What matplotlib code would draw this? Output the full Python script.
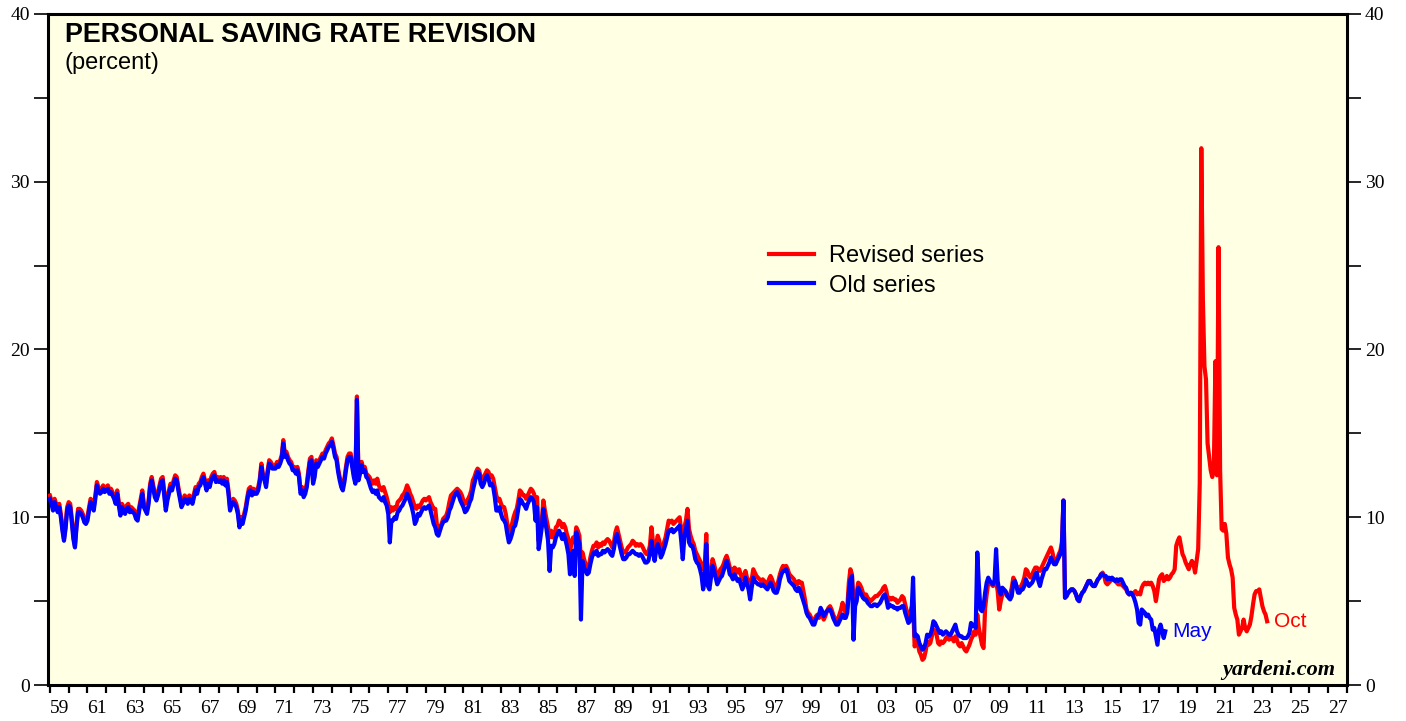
import numpy as np
import matplotlib
matplotlib.use("Agg")
import matplotlib.pyplot as plt
from matplotlib.ticker import MultipleLocator, FixedLocator, FixedFormatter

# Personal saving rate (percent), monthly, revised series Jan 1959 - Oct 2023
revised_1959_1969 = [
    11.3, 11.0, 10.6, 11.1, 10.8, 10.5, 10.8, 10.2, 9.4, 8.7, 9.5, 10.6,
    10.9, 10.8, 9.9, 8.9, 8.3, 9.6, 10.5, 10.5, 10.4, 10.2, 9.9, 9.8,
    10.0, 10.6, 11.1, 10.9, 10.6, 11.3, 12.1, 11.8, 11.6, 11.7, 11.9, 11.7,
    11.8, 11.9, 11.6, 11.7, 11.5, 11.3, 11.0, 11.6, 10.9, 10.3, 10.8, 10.6,
    10.4, 10.7, 10.8, 10.5, 10.6, 10.5, 10.4, 10.1, 10.0, 10.6, 11.1, 11.6,
    10.8, 10.6, 10.4, 11.0, 12.0, 12.4, 11.9, 11.4, 11.2, 11.5, 11.9, 12.3,
    12.4, 11.5, 10.6, 11.2, 11.6, 12.0, 11.8, 12.2, 12.5, 12.4, 11.8, 11.3,
    10.8, 11.0, 11.3, 11.2, 11.0, 11.3, 11.2, 11.0, 11.4, 11.8, 11.6, 12.0,
    12.1, 12.4, 12.6, 12.2, 11.8, 12.2, 12.0, 12.4, 12.6, 12.7, 12.3, 12.4,
    12.3, 12.4, 12.2, 12.4, 12.1, 12.3, 11.6, 10.6, 10.9, 11.1, 11.0, 10.8,
    10.4, 9.6, 10.0, 9.8, 10.2, 10.6, 11.2, 11.7, 11.8, 11.5, 11.7, 11.6,
]
revised_1970s = [
    11.6, 11.8, 12.3, 13.2, 12.6, 12.4, 12.0, 12.8, 13.4, 13.3, 13.1, 13.1,
    13.1, 13.3, 13.2, 13.4, 13.7, 14.6, 13.8, 13.9, 13.6, 13.4, 13.3, 13.0,
    13.0, 12.8, 13.0, 12.6, 11.6, 11.8, 11.4, 11.6, 12.0, 12.8, 13.5, 13.6,
    12.2, 12.6, 13.4, 13.2, 13.4, 13.6, 13.8, 13.7, 14.0, 14.2, 14.4, 14.5,
    14.7, 14.3, 13.8, 13.6, 12.9, 12.4, 12.0, 11.8, 12.3, 13.0, 13.6, 13.8,
    13.8, 13.2, 12.6, 12.2, 17.2, 12.4, 12.8, 13.3, 12.9, 13.0, 12.6, 12.5,
    12.4, 12.2, 12.0, 12.2, 12.0, 12.3, 11.9, 11.7, 11.6, 11.8, 11.5, 11.2,
    10.8, 10.3, 10.6, 10.4, 10.6, 10.5, 10.9, 11.0, 11.1, 11.3, 11.4, 11.6,
    11.9, 11.7, 11.4, 11.2, 10.9, 10.6, 10.5, 10.7, 10.6, 10.8, 11.0, 11.1,
    11.0, 11.1, 11.2, 10.9, 10.7, 10.5, 10.5, 9.6, 9.0, 9.4, 9.6, 9.9,
]
revised_1980s = [
    10.0, 10.1, 10.4, 10.9, 11.3, 11.4, 11.5, 11.6, 11.7, 11.6, 11.5, 11.3,
    11.0, 10.8, 10.9, 11.1, 11.3, 11.6, 12.2, 12.4, 12.7, 12.9, 12.8, 12.4,
    12.3, 12.4, 12.6, 12.8, 12.7, 12.4, 12.5, 12.3, 11.8, 11.3, 11.0, 11.1,
    10.8, 10.6, 10.6, 10.2, 9.6, 9.0, 9.2, 9.6, 10.0, 10.3, 10.5, 11.0,
    11.6, 11.5, 11.3, 11.3, 11.1, 11.3, 11.5, 11.7, 11.6, 11.4, 11.0, 11.2,
    8.6, 9.2, 9.8, 11.0, 10.4, 9.9, 9.4, 8.8, 9.2, 8.8, 8.9, 9.4,
    9.5, 9.8, 9.7, 9.4, 9.6, 9.4, 9.0, 8.7, 8.0, 8.4, 8.8, 8.5,
    9.4, 9.2, 8.9, 7.5, 7.9, 7.5, 7.2, 6.7, 7.0, 7.6, 8.0, 8.3,
    8.3, 8.5, 8.2, 8.4, 8.3, 8.5, 8.4, 8.6, 8.7, 8.6, 8.4, 8.2,
    8.5, 9.1, 9.4, 9.0, 8.6, 8.2, 7.9, 7.9, 8.0, 8.2, 8.3, 8.4,
]
revised_1990s = [
    8.6, 8.5, 8.3, 8.4, 8.3, 8.4, 8.3, 8.1, 7.9, 7.8, 7.9, 8.3,
    9.4, 8.5, 7.6, 8.4, 8.9, 8.6, 7.8, 8.1, 8.5, 8.8, 9.3, 9.8,
    9.7, 9.8, 9.6, 9.7, 9.8, 9.9, 10.0, 9.2, 8.2, 9.4, 9.8, 10.5,
    9.3, 8.9, 8.6, 8.4, 8.0, 7.8, 7.6, 7.4, 7.2, 6.9, 7.1, 9.0,
    6.2, 6.0, 6.8, 7.5, 7.2, 6.8, 6.5, 6.6, 6.9, 7.0, 7.2, 7.5,
    7.7, 7.4, 7.0, 6.9, 6.7, 7.0, 6.9, 6.7, 6.9, 6.6, 6.3, 6.5,
    6.8, 6.4, 6.2, 5.9, 6.3, 6.9, 6.7, 6.5, 6.4, 6.3, 6.2, 6.3,
    6.2, 6.1, 6.0, 6.3, 6.5, 6.3, 6.0, 5.8, 5.9, 6.2, 6.6, 6.9,
    7.1, 7.0, 7.1, 6.9, 6.6, 6.5, 6.4, 6.3, 6.1, 6.0, 6.2, 6.1,
    6.1, 5.6, 5.1, 4.5, 4.3, 4.2, 4.0, 3.9, 3.8, 4.1, 4.2, 4.0,
]
revised_2000s = [
    4.3, 4.2, 3.9, 4.1, 4.4, 4.6, 4.7, 4.5, 4.2, 4.0, 3.9, 3.9,
    4.2, 4.5, 4.9, 4.6, 4.3, 4.6, 6.1, 6.9, 6.6, 5.0, 5.2, 5.5,
    6.1, 6.0, 5.8, 5.5, 5.3, 5.4, 5.2, 5.1, 5.0, 5.1, 5.2, 5.3,
    5.3, 5.4, 5.5, 5.6, 5.8, 5.9, 5.6, 5.0, 5.2, 5.1, 5.2, 5.1,
    5.1, 4.9, 5.0, 5.1, 5.3, 5.2, 4.8, 4.4, 3.9, 4.2, 4.6, 4.9,
    2.3, 2.6, 2.5, 2.0, 1.8, 1.5, 1.6, 2.0, 2.6, 2.4, 2.5, 2.9,
    3.3, 3.2, 3.0, 2.5, 2.4, 2.6, 2.5, 2.6, 2.8, 2.9, 2.7, 2.8,
    2.8, 2.6, 2.9, 2.7, 2.4, 2.3, 2.5, 2.3, 2.1, 2.0, 2.2, 2.4,
    2.7, 2.9, 3.2, 3.0, 4.2, 3.4, 2.9, 2.4, 2.2, 4.6, 5.4, 6.1,
    6.2, 6.0, 5.9, 6.1, 6.2, 5.6, 4.5, 5.0, 5.4, 5.6, 5.5, 5.3,
]
revised_2010s = [
    5.3, 5.4, 5.8, 6.4, 6.2, 5.9, 5.6, 5.8, 5.9, 6.1, 6.4, 6.9,
    6.8, 6.5, 6.4, 6.6, 6.8, 7.0, 7.0, 6.9, 6.8, 7.0, 7.2, 7.4,
    7.6, 7.8, 8.0, 8.2, 7.9, 7.4, 7.2, 7.5, 7.8, 8.0, 8.5, 11.0,
    5.2, 5.3, 5.5, 5.6, 5.7, 5.7, 5.6, 5.4, 5.1, 5.0, 5.3, 5.5,
    5.6, 5.8, 6.0, 6.2, 6.2, 6.0, 5.9, 5.9, 6.1, 6.3, 6.4, 6.6,
    6.7, 6.5, 6.1, 6.0, 6.1, 6.2, 6.3, 6.3, 6.2, 6.1, 6.0, 6.0,
    6.0, 5.9, 5.8, 5.7, 5.5, 5.4, 5.5, 5.4, 5.5, 5.6, 5.4, 5.5,
    5.4, 5.8, 6.0, 6.1, 6.0, 6.1, 6.0, 6.1, 5.9, 5.6, 5.0, 5.6,
    6.3, 6.5, 6.6, 6.2, 6.3, 6.5, 6.3, 6.4, 6.6, 6.7, 6.9, 8.3,
    8.6, 8.8, 8.3, 7.8, 7.6, 7.3, 7.1, 6.9, 7.2, 7.4, 7.2, 6.7,
]
revised_2020s = [
    7.4, 8.1, 12.0, 32.0, 23.0, 19.0, 18.2, 14.4, 13.6, 12.8, 12.4, 12.9,
    19.3, 12.5, 26.1, 12.8, 9.3, 9.2, 9.6, 9.0, 7.6, 7.2, 6.9, 6.4,
    4.6, 4.2, 3.9, 3.0, 3.2, 3.4, 3.9, 3.4, 3.2, 3.4, 3.6, 4.1,
    4.8, 5.4, 5.6, 5.6, 5.7, 5.2, 4.7, 4.4, 4.2, 3.8,
]

# Old (pre-revision) series, Jan 1959 - May 2018
old_1959_1969 = [
    11.1, 10.8, 10.4, 10.9, 10.6, 10.3, 10.6, 10.0, 9.2, 8.6, 9.3, 10.4,
    10.7, 10.6, 9.7, 8.7, 8.2, 9.4, 10.3, 10.3, 10.2, 10.0, 9.7, 9.6,
    9.8, 10.4, 10.9, 10.7, 10.4, 11.1, 11.9, 11.6, 11.4, 11.5, 11.7, 11.5,
    11.6, 11.7, 11.4, 11.5, 11.3, 11.1, 10.8, 11.4, 10.7, 10.1, 10.6, 10.4,
    10.2, 10.5, 10.6, 10.3, 10.4, 10.3, 10.2, 9.9, 9.8, 10.4, 10.9, 11.4,
    10.6, 10.4, 10.2, 10.8, 11.8, 12.2, 11.7, 11.2, 11.0, 11.3, 11.7, 12.1,
    12.2, 11.3, 10.4, 11.0, 11.4, 11.8, 11.6, 12.0, 12.3, 12.2, 11.6, 11.1,
    10.6, 10.8, 11.1, 11.0, 10.8, 11.1, 11.0, 10.8, 11.2, 11.6, 11.4, 11.8,
    11.9, 12.2, 12.4, 12.0, 11.6, 12.0, 11.8, 12.2, 12.4, 12.5, 12.1, 12.2,
    12.1, 12.2, 12.0, 12.2, 11.9, 12.1, 11.4, 10.4, 10.7, 10.9, 10.8, 10.6,
    10.2, 9.4, 9.8, 9.6, 10.0, 10.4, 11.0, 11.5, 11.6, 11.3, 11.5, 11.4,
]
old_1970s = [
    11.4, 11.6, 12.1, 13.0, 12.4, 12.2, 11.8, 12.6, 13.2, 13.1, 12.9, 12.9,
    12.9, 13.1, 13.0, 13.2, 13.5, 14.4, 13.6, 13.7, 13.4, 13.2, 13.1, 12.8,
    12.8, 12.6, 12.8, 12.4, 11.4, 11.6, 11.2, 11.4, 11.8, 12.6, 13.3, 13.4,
    12.0, 12.4, 13.2, 13.0, 13.2, 13.4, 13.6, 13.5, 13.8, 14.0, 14.2, 14.3,
    14.5, 14.1, 13.6, 13.4, 12.7, 12.2, 11.8, 11.6, 12.1, 12.8, 13.4, 13.6,
    13.6, 13.0, 12.4, 12.0, 17.0, 12.2, 12.6, 13.1, 12.7, 12.8, 12.4, 12.3,
    12.0, 11.7, 11.5, 11.6, 11.4, 11.6, 11.2, 11.1, 11.0, 11.2, 10.9, 10.7,
    10.2, 8.5, 9.8, 9.8, 10.0, 9.9, 10.3, 10.4, 10.6, 10.7, 10.9, 11.1,
    11.4, 11.2, 10.9, 10.6, 10.2, 9.6, 9.8, 10.2, 10.1, 10.3, 10.5, 10.6,
    10.5, 10.6, 10.7, 10.4, 10.0, 9.6, 9.4, 9.0, 8.9, 9.2, 9.5, 9.7,
]
old_1980s = [
    9.8, 9.8, 10.0, 10.4, 10.6, 10.9, 11.2, 11.4, 11.5, 11.3, 11.0, 10.8,
    10.6, 10.3, 10.4, 10.6, 10.9, 11.1, 11.6, 12.0, 12.4, 12.7, 12.6, 12.0,
    11.8, 12.0, 12.3, 12.5, 12.3, 11.9, 12.0, 11.8, 11.2, 10.4, 10.4, 10.6,
    10.2, 9.9, 9.8, 9.6, 9.0, 8.5, 8.7, 9.0, 9.4, 9.5, 9.9, 10.5,
    11.1, 11.0, 10.8, 10.7, 10.5, 10.8, 11.0, 11.2, 11.1, 10.9, 9.8, 10.6,
    8.1, 8.7, 9.4, 10.5, 9.8, 9.3, 8.6, 6.8, 8.3, 8.2, 8.4, 8.8,
    9.0, 9.2, 9.0, 8.7, 9.0, 8.7, 8.3, 7.8, 6.6, 7.8, 8.0, 6.5,
    9.1, 8.8, 8.4, 3.9, 7.4, 7.0, 6.8, 6.6, 6.7, 7.2, 7.6, 7.9,
    7.8, 8.0, 7.7, 7.8, 7.8, 8.0, 7.9, 8.0, 8.1, 8.0, 7.8, 7.7,
    8.1, 8.7, 9.0, 8.6, 8.2, 7.8, 7.5, 7.5, 7.6, 7.8, 7.8, 7.9,
]
old_1990s = [
    8.0, 7.9, 7.8, 7.8, 7.7, 7.8, 7.7, 7.5, 7.3, 7.3, 7.4, 7.8,
    8.6, 8.0, 7.4, 8.0, 8.4, 8.1, 7.6, 7.8, 8.1, 8.4, 8.8, 9.2,
    9.2, 9.3, 9.1, 9.2, 9.3, 9.4, 9.5, 8.6, 7.5, 8.8, 9.3, 9.8,
    8.5, 8.3, 8.3, 8.0, 7.5, 7.3, 7.2, 6.9, 6.5, 5.7, 6.3, 8.4,
    5.9, 5.7, 6.4, 7.1, 6.8, 6.4, 6.0, 6.2, 6.4, 6.5, 6.8, 7.1,
    7.4, 7.1, 6.6, 6.5, 6.3, 6.6, 6.4, 6.2, 6.3, 6.0, 5.7, 6.0,
    6.4, 6.0, 5.7, 5.1, 5.8, 6.4, 6.2, 6.1, 6.0, 6.0, 5.9, 6.0,
    5.9, 5.8, 5.7, 5.9, 6.1, 5.9, 5.6, 5.5, 5.5, 5.8, 6.3, 6.6,
    6.8, 6.8, 6.9, 6.6, 6.2, 6.1, 6.0, 5.9, 5.7, 5.6, 5.8, 5.6,
    5.3, 5.0, 4.7, 4.3, 4.1, 4.0, 3.8, 3.6, 3.6, 3.9, 4.1, 4.2,
]
old_2000s = [
    4.6, 4.4, 4.1, 4.3, 4.4, 4.5, 4.5, 4.3, 4.0, 3.8, 3.6, 3.6,
    3.8, 4.0, 4.2, 4.0, 4.0, 4.3, 5.5, 6.3, 6.5, 2.7, 4.7, 5.0,
    5.8, 5.6, 5.4, 5.2, 5.1, 5.1, 4.9, 4.8, 4.7, 4.7, 4.8, 4.8,
    4.7, 4.8, 4.9, 5.1, 5.3, 5.4, 5.1, 4.6, 4.8, 4.7, 4.7, 4.6,
    4.6, 4.5, 4.6, 4.6, 4.7, 4.7, 4.3, 4.0, 3.7, 3.8, 4.2, 6.4,
    2.9, 3.0, 2.9, 2.5, 2.3, 2.1, 2.2, 2.5, 3.0, 2.9, 3.0, 3.3,
    3.8, 3.7, 3.5, 3.3, 3.1, 3.2, 3.0, 3.1, 3.2, 3.1, 3.0, 3.0,
    3.2, 3.4, 3.6, 3.2, 3.0, 2.9, 2.9, 2.8, 2.8, 2.8, 2.9, 3.1,
    3.7, 3.5, 3.6, 3.4, 7.9, 6.0, 4.5, 4.4, 4.7, 5.5, 6.1, 6.4,
    6.2, 6.1, 6.0, 6.2, 8.1, 6.2, 5.6, 5.4, 5.8, 5.7, 5.6, 5.4,
]
old_2010s = [
    5.2, 5.1, 5.3, 6.1, 6.2, 5.9, 5.5, 5.5, 5.7, 5.7, 5.9, 6.3,
    6.1, 5.9, 6.0, 6.1, 6.3, 6.6, 6.7, 6.2, 5.9, 6.3, 6.6, 6.9,
    6.9, 7.1, 7.3, 7.6, 7.4, 7.2, 7.2, 7.4, 7.6, 7.8, 8.2, 11.0,
    5.2, 5.3, 5.5, 5.6, 5.7, 5.7, 5.6, 5.4, 5.1, 5.0, 5.3, 5.5,
    5.6, 5.8, 6.0, 6.2, 6.2, 6.0, 5.9, 5.9, 6.1, 6.3, 6.4, 6.6,
    6.6, 6.5, 6.5, 6.3, 6.4, 6.3, 6.4, 6.3, 6.2, 6.3, 6.2, 6.3,
    6.3, 6.1, 5.9, 5.8, 5.5, 5.4, 5.5, 5.4, 5.2, 4.9, 4.5, 3.7,
    3.6, 4.5, 4.4, 4.3, 4.1, 4.2, 4.0, 3.9, 3.3, 3.4, 2.9, 2.4,
    3.3, 3.6, 3.2, 2.8, 3.2,
]

revised = (revised_1959_1969 + revised_1970s + revised_1980s + revised_1990s
           + revised_2000s + revised_2010s + revised_2020s)
old = (old_1959_1969 + old_1970s + old_1980s + old_1990s
       + old_2000s + old_2010s)

start_year = 1959
t_rev = start_year + np.arange(len(revised)) / 12
t_old = start_year + np.arange(len(old)) / 12

year_labels = list(range(1959, 2028, 2))

RED = "#ff0000"
BLUE = "#0000ff"
SERIF = "Liberation Serif"
SANS = "Liberation Sans"

fig = plt.figure(figsize=(14.06, 7.21), dpi=100, facecolor="white")
ax = fig.add_axes([48 / 1406, 36 / 721, 1299 / 1406, 671 / 721])
ax.set_facecolor("#ffffe4")

ax.plot(t_rev, revised, color=RED, lw=3, solid_joinstyle="round",
        label="Revised series", zorder=3)
ax.plot(t_old, old, color=BLUE, lw=3, solid_joinstyle="round",
        label="Old series", zorder=4)

ax.set_xlim(1958.9, 2028.0)
ax.set_ylim(0, 40)

# x axis: tick at every year, labels centred between ticks
ax.xaxis.set_major_locator(MultipleLocator(1))
ax.xaxis.set_major_formatter(plt.NullFormatter())
ax.xaxis.set_minor_locator(FixedLocator([y + 0.5 for y in year_labels]))
ax.xaxis.set_minor_formatter(FixedFormatter([f"{y % 100:02d}" for y in year_labels]))
ax.tick_params(axis="x", which="major", direction="out", length=6, width=1.6)
ax.tick_params(axis="x", which="minor", length=0, pad=11,
               labelsize=14, labelfontfamily=SERIF)

# y axis on both sides
ax.yaxis.set_major_locator(MultipleLocator(10))
ax.yaxis.set_minor_locator(MultipleLocator(5))
ax.tick_params(axis="y", which="both", direction="out", left=True, right=True,
               labelleft=True, labelright=True, width=1.2)
ax.tick_params(axis="y", which="major", length=10, pad=3,
               labelsize=14, labelfontfamily=SERIF)
ax.tick_params(axis="y", which="minor", length=10)

for s in ax.spines.values():
    s.set_linewidth(2.2)

ax.text(0.013, 0.988, "PERSONAL SAVING RATE REVISION", transform=ax.transAxes,
        fontsize=19.4, fontweight="bold", family=SANS, va="top", ha="left")
ax.text(0.013, 0.943, "(percent)", transform=ax.transAxes,
        fontsize=17, family=SANS, va="top", ha="left")

ax.legend(loc="upper left", bbox_to_anchor=(0.555, 0.655), frameon=False,
          prop={"family": SANS, "size": 17}, handlelength=1.9,
          handletextpad=0.65, labelspacing=0.3, borderaxespad=0, borderpad=0)

ax.annotate("May", xy=(t_old[-1], old[-1]), xytext=(5, 0),
            textcoords="offset points", color=BLUE, fontsize=15,
            family=SANS, va="center", ha="left")
ax.annotate("Oct", xy=(t_rev[-1], revised[-1]), xytext=(5, 0),
            textcoords="offset points", color=RED, fontsize=15,
            family=SANS, va="center", ha="left")

ax.text(0.991, 0.022, "yardeni.com", transform=ax.transAxes, fontsize=16,
        family=SERIF, fontweight="bold", fontstyle="italic",
        va="center", ha="right")

fig.savefig("out.png", dpi=100, facecolor="white")
